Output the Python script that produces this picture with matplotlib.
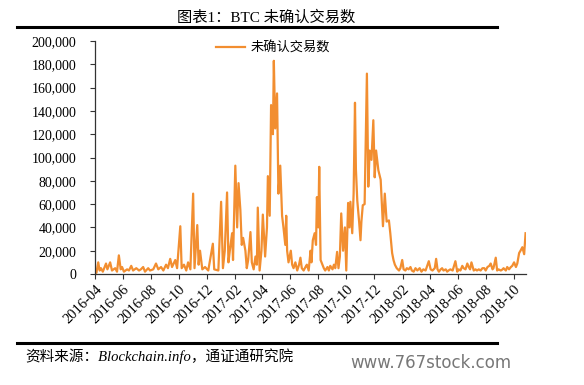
import pandas as pd
import matplotlib
matplotlib.use('Agg')
import matplotlib.pyplot as plt
import matplotlib.dates as mdates
from matplotlib.ticker import FuncFormatter

# days since 2016-04-01 and unconfirmed transaction counts (thousands)
start_date = '2016-04-01'
day_offsets = [
    0, 3, 7, 10, 13, 17, 24, 27, 33, 37, 44, 48, 52, 56, 59, 63, 70, 74, 79, 83,
    90, 96, 100, 105, 109, 116, 120, 127, 133, 138, 144, 149, 155, 159, 164, 168, 175, 179, 186, 189,
    194, 199, 203, 208, 214, 217, 223, 226, 229, 234, 240, 247, 257, 260, 269, 275, 279, 283, 288, 291,
    294, 299, 301, 306, 310, 313, 317, 320, 323, 328, 331, 334, 339, 342, 346, 350, 353, 355, 359, 363,
    366, 371, 375, 377, 381, 384, 388, 390, 393, 397, 400, 404, 408, 411, 415, 417, 419, 422, 427, 430,
    433, 437, 441, 445, 448, 451, 455, 459, 462, 466, 470, 472, 475, 479, 482, 484, 487, 489, 492, 496,
    499, 502, 507, 510, 513, 518, 521, 524, 528, 531, 534, 537, 541, 545, 548, 552, 555, 557, 561, 564,
    567, 569, 572, 576, 579, 581, 584, 588, 593, 596, 599, 603, 607, 610, 613, 618, 623, 628, 632, 636,
    641, 644, 648, 651, 654, 658, 663, 666, 670, 673, 677, 680, 684, 688, 691, 695, 699, 703, 708, 712,
    716, 721, 728, 732, 736, 741, 744, 747, 750, 754, 757, 760, 765, 768, 771, 775, 780, 786, 790, 793,
    797, 801, 804, 808, 812, 815, 818, 821, 826, 830, 833, 837, 841, 845, 849, 852, 856, 860, 863, 867,
    869, 874, 877, 880, 885, 889, 891, 896, 899, 903, 907, 910, 914, 918, 921, 925, 928, 932, 936, 939,
]
unconfirmed_k = [
    3, 1, 10, 3, 5, 2, 9, 4, 10, 3, 5, 2, 16, 4, 6, 2, 4, 3, 7, 3,
    5, 3, 4, 6, 2, 5, 3, 4, 9, 4, 6, 3, 8, 5, 13, 6, 12, 5, 41, 5,
    8, 3, 10, 4, 69, 5, 42, 8, 20, 4, 6, 3, 26, 4, 3, 62, 5, 20, 70, 10,
    20, 35, 12, 93, 40, 78, 55, 25, 31, 20, 5, 12, 36, 10, 4, 15, 8, 57, 3, 20,
    51, 15, 40, 84, 50, 145, 120, 183, 125, 155, 69, 93, 50, 40, 25, 50, 20, 10, 20, 8,
    5, 10, 3, 8, 14, 5, 3, 6, 8, 3, 20, 10, 29, 35, 25, 66, 40, 92, 12, 8,
    5, 3, 6, 3, 7, 4, 8, 5, 19, 5, 15, 52, 20, 40, 3, 61, 40, 62, 35, 69,
    147, 90, 63, 45, 29, 45, 59, 60, 172, 75, 106, 98, 132, 83, 106, 89, 81, 41, 69, 45,
    46, 35, 18, 12, 8, 5, 3, 5, 12, 4, 3, 5, 4, 6, 3, 2, 5, 3, 5, 2,
    4, 3, 11, 4, 3, 5, 13, 4, 2, 4, 5, 3, 4, 2, 3, 4, 3, 11, 2, 4,
    3, 7, 5, 4, 9, 6, 4, 10, 3, 4, 3, 4, 3, 5, 5, 3, 6, 7, 9, 4,
    5, 14, 3, 4, 3, 4, 5, 3, 6, 4, 6, 7, 10, 6, 9, 18, 20, 23, 17, 35,
]
y_ticks = [0, 20000, 40000, 60000, 80000, 100000, 120000, 140000, 160000, 180000, 200000]
series_name = '未确认交易数'
title_text = '图表1：BTC 未确认交易数'
source_text = '资料来源：Blockchain.info，通证通研究院'

dates = pd.Timestamp(start_date) + pd.to_timedelta(day_offsets, unit='D')
values = [v * 1000 for v in unconfirmed_k]

serif_cjk = ['Liberation Serif', 'Noto Sans CJK SC']
plt.rcParams['font.family'] = serif_cjk

fig = plt.figure(figsize=(5.84, 3.85), dpi=100)
ax = fig.add_axes([0.1627, 0.2883, 0.7380, 0.6052])

ax.plot(dates, values, color='#F28E30', lw=1.6, label=series_name)

ax.set_ylim(0, 200000)
ax.set_yticks(y_ticks)
ax.yaxis.set_major_formatter(FuncFormatter(lambda v, p: '{:,.0f}'.format(v)))
ax.set_xlim(pd.Timestamp(start_date), pd.Timestamp(start_date) + pd.Timedelta(days=940))
ax.xaxis.set_major_locator(mdates.MonthLocator(bymonth=[2, 4, 6, 8, 10, 12]))
ax.xaxis.set_major_formatter(mdates.DateFormatter('%Y-%m'))
plt.setp(ax.get_xticklabels(), rotation=45, ha='right', rotation_mode='anchor')

for side in ['top', 'right']:
    ax.spines[side].set_visible(False)
for side in ['left', 'bottom']:
    ax.spines[side].set_color('#333333')
    ax.spines[side].set_linewidth(0.9)
ax.tick_params(axis='both', length=3.5, width=0.8, color='#333333')
ax.tick_params(axis='y', labelsize=10, pad=10)
ax.tick_params(axis='x', labelsize=10.5, pad=3)

leg = ax.legend(loc='upper center', bbox_to_anchor=(0.413, 1.05), frameon=False,
                fontsize=9.5, handlelength=2.2, handletextpad=0.4)

# header / footer
fig.text(0.455, 0.955, title_text, ha='center', va='center', fontsize=11)
fig.add_artist(plt.Line2D([0.029, 0.851], [0.930, 0.930], color='black', lw=2.2))
fig.add_artist(plt.Line2D([0.029, 0.851], [0.109, 0.109], color='black', lw=2.2))
fig.text(0.043, 0.075, source_text, ha='left', va='center', fontsize=10.5, style='italic')
fig.text(0.875, 0.058, 'www.767stock.com', ha='right', va='center', fontsize=12,
         color='#777777', family='DejaVu Sans')

fig.savefig('out.png', dpi=100)
